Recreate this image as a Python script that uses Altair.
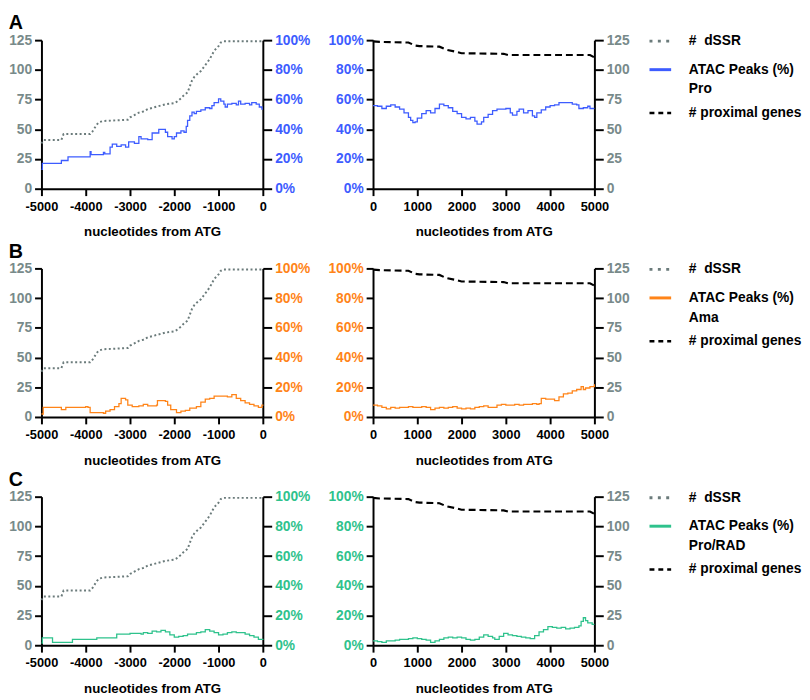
import altair as alt
import pandas as pd

# ---------------- data ----------------
# cumulative # dSSR (0-125 scale), upstream panel
dssr_pos = [-5000, -4950, -4550, -4500, -3900, -3850, -3800, -3750, -3700, -3600, -3050, -3000,
            -2900, -2800, -2700, -2600, -2500, -2400, -2300, -2200, -2000, -1950, -1850, -1800,
            -1700, -1650, -1600, -1550, -1500, -1400, -1300, -1200, -1100, -1000, -950, -900, 0]
dssr_val = [38, 41, 41, 46, 46, 48, 51, 54, 56, 57, 58, 60,
            62, 64, 65, 67, 68, 69, 70, 71, 72, 73, 76, 78,
            81, 86, 91, 94, 96, 99, 104, 109, 116, 120, 123, 124, 124]

# # proximal genes (0-125 scale), downstream panel
prox_pos = [0, 150, 800, 950, 1050, 1500, 1650, 1900, 2000, 2950, 3050, 4900, 5000]
prox_val = [124, 123.5, 123, 120.5, 120, 119.5, 117, 115, 114, 113.5, 112.5, 112.5, 110.5]

# ATAC peaks (%) - Pro
pro_up_pos = [-5000, -4980, -4550, -4400, -3900, -3880, -3600, -3570, -3450, -3400, -3300, -3200,
              -3100, -3030, -2900, -2800, -2750, -2600, -2500, -2350, -2200, -2150, -2050, -2000,
              -1950, -1850, -1780, -1730, -1700, -1650, -1600, -1550, -1500, -1400, -1300, -1200,
              -1150, -1100, -1000, -950, -880, -850, -800, -700, -600, -550, -500, -400, -300,
              -250, -150, -80, -20, 0]
pro_up_val = [13, 17, 19, 21.5, 25, 23, 24.5, 23.5, 28, 30, 28.5, 29.5,
              28, 31.5, 30.5, 35, 33.5, 33, 37.5, 40, 38, 35, 33.5, 35,
              37.5, 39, 38, 42, 46, 49, 51.5, 50.5, 52, 53, 54.5, 54,
              56, 58, 60.5, 59, 57, 55, 57, 57.5, 56.5, 59, 57, 57.5, 56.5,
              58, 57, 55, 53.5, 53.5]
pro_dn_pos = [0, 100, 200, 300, 400, 500, 600, 700, 800, 850, 900, 950, 1000, 1100, 1200, 1300,
              1400, 1500, 1600, 1700, 1800, 1900, 2000, 2100, 2200, 2300, 2350, 2450, 2500, 2600,
              2700, 2800, 2900, 3000, 3100, 3150, 3250, 3300, 3400, 3500, 3600, 3650, 3700, 3800,
              3900, 4000, 4100, 4200, 4300, 4400, 4500, 4600, 4650, 4750, 4850, 4900, 5000]
pro_dn_val = [56, 55.5, 54, 55.5, 56.5, 55, 53.5, 51, 48, 46, 44.5, 45, 47.5, 50.5, 52.5, 51,
              54, 57, 56, 54.5, 52, 50.5, 48, 47, 48, 45.5, 43.5, 45, 48, 50,
              52.5, 53.5, 53.5, 54, 51, 49.5, 52, 53.5, 51, 52.5, 49, 48, 51, 53,
              55, 56, 56.5, 58, 58, 58, 57, 56.5, 54, 54.5, 55.5, 54, 54]

# ATAC peaks (%) - Ama
ama_up_pos = [-5000, -4960, -4550, -4450, -4000, -3950, -3900, -3600, -3550, -3450, -3350, -3250,
              -3200, -3100, -3050, -2950, -2800, -2700, -2600, -2400, -2380, -2200, -2150, -2080,
              -1950, -1850, -1750, -1650, -1500, -1400, -1300, -1200, -1100, -900, -800, -700,
              -600, -500, -400, -300, -200, -100, -20, 0]
ama_up_val = [2, 6.5, 5, 6.5, 7, 6.5, 3, 2.5, 4, 5, 7, 9,
              12.5, 11.5, 8, 7, 7.5, 8.5, 7.5, 8, 11, 10.5, 8, 5,
              3, 4, 4.5, 6, 7, 10, 12, 12.5, 14, 14, 13.5, 15,
              12.5, 11, 9.5, 8.5, 7.5, 6.5, 8, 7.5]
ama_dn_pos = [0, 100, 200, 300, 400, 500, 600, 700, 800, 900, 1000, 1100, 1200, 1300, 1400, 1500,
              1600, 1700, 1800, 1900, 2000, 2100, 2200, 2300, 2400, 2500, 2600, 2700, 2800, 2900,
              3000, 3100, 3200, 3300, 3400, 3500, 3600, 3700, 3750, 3800, 3900, 4000, 4100, 4200,
              4300, 4400, 4500, 4600, 4700, 4750, 4800, 4900, 5000]
ama_dn_val = [8, 7.5, 6.5, 5.5, 6.5, 6, 6.5, 6.5, 7, 6.5, 6.5, 7, 6.5, 5, 6, 6.5,
              6, 6.5, 7, 6, 5.5, 6, 5.5, 6.5, 7, 7.5, 6.5, 6.5, 8, 8.5,
              8, 8, 8.5, 8, 8.5, 8.5, 9, 8.5, 9, 12.5, 12, 12, 11, 13.5,
              15.5, 16, 17.5, 18.5, 20.5, 18.5, 19.5, 20.5, 22]

# ATAC peaks (%) - Pro/RAD
rad_up_pos = [-5000, -4980, -4750, -4300, -3900, -3750, -3300, -3000, -2750, -2700, -2600, -2500,
              -2400, -2300, -2200, -2100, -2000, -1900, -1800, -1700, -1600, -1500, -1400, -1300,
              -1200, -1100, -1000, -900, -800, -700, -600, -500, -400, -300, -200, -100, 0]
rad_up_val = [1.5, 5, 2, 4, 4, 5, 7.5, 8, 7.5, 8.5, 8, 9.5,
              9, 10, 9, 7, 5.5, 6, 6.5, 7.5, 7.5, 8.5, 9, 10.5,
              9.5, 8.5, 7, 7.5, 8.5, 9, 8.5, 8.5, 7.5, 6.5, 5.5, 4, 3.5]
rad_dn_pos = [0, 100, 200, 300, 400, 500, 600, 700, 800, 900, 1000, 1100, 1200, 1300, 1400, 1500,
              1600, 1700, 1800, 1900, 2000, 2100, 2200, 2300, 2400, 2500, 2600, 2700, 2750, 2850,
              2950, 3050, 3150, 3250, 3350, 3450, 3550, 3650, 3750, 3850, 3950, 4050, 4150, 4250,
              4350, 4450, 4550, 4650, 4700, 4750, 4800, 4850, 4950, 5000]
rad_dn_val = [3, 2.5, 2, 3, 3, 3.5, 4, 4, 4.5, 5, 4.5, 4, 3.5, 2, 3, 4,
              5, 5.5, 5, 5.5, 5, 4, 3.5, 4, 5.5, 7, 6, 5, 4, 6,
              8, 7, 6.5, 6, 5.5, 5, 4.5, 6.5, 9, 10.5, 12.5, 12, 11.5, 12,
              11, 11.5, 12, 13, 16, 18.5, 16.5, 15, 14, 14]

up_ticks = [-5000, -4000, -3000, -2000, -1000, 0]
dn_ticks = [0, 1000, 2000, 3000, 4000, 5000]
count_ticks = [0, 25, 50, 75, 100, 125]
pct_ticks = [0, 20, 40, 60, 80, 100]

# ---------------- styling ----------------
FONT = "Liberation Sans"
GRAY_LABEL = "#788a8a"
DOT = "#6b7b7b"
W = 225
H = 151
YFS = 14


def xaxis(values):
    return alt.Axis(values=values, title="nucleotides from ATG", labelExpr="datum.value + ''",
                    tickSize=7, labelPadding=5, titlePadding=12, labelColor="#000", labelFontSize=13)


def count_axis(orient):
    return alt.Axis(orient=orient, values=count_ticks, title=None, labelColor=GRAY_LABEL,
                    tickSize=7 if orient == "left" else 9, labelPadding=3, labelFontSize=YFS)


def pct_axis(orient, color):
    return alt.Axis(orient=orient, values=pct_ticks, title=None, labelExpr="datum.value + '%'",
                    labelColor=color, tickSize=7 if orient == "left" else 9, labelPadding=3,
                    labelFontSize=YFS)


def left_panel(pos, val, color):
    x = alt.X("pos:Q", scale=alt.Scale(domain=[-5000, 0], nice=False, zero=False), axis=xaxis(up_ticks))
    dotted = alt.Chart(pd.DataFrame({"pos": dssr_pos, "v": dssr_val})).mark_line(
        color=DOT, strokeDash=[2, 2.5], strokeWidth=2).encode(
        x=x, y=alt.Y("v:Q", scale=alt.Scale(domain=[0, 125], nice=False), axis=count_axis("left")))
    atac = alt.Chart(pd.DataFrame({"pos": pos, "v": val})).mark_line(
        color=color, strokeWidth=1.3, interpolate="step-after").encode(
        x=x, y=alt.Y("v:Q", scale=alt.Scale(domain=[0, 100], nice=False), axis=pct_axis("right", color)))
    return alt.layer(dotted, atac).resolve_scale(y="independent").properties(width=W, height=H)


def right_panel(pos, val, color):
    x = alt.X("pos:Q", scale=alt.Scale(domain=[0, 5000], nice=False), axis=xaxis(dn_ticks))
    atac = alt.Chart(pd.DataFrame({"pos": pos, "v": val})).mark_line(
        color=color, strokeWidth=1.3, interpolate="step-after").encode(
        x=x, y=alt.Y("v:Q", scale=alt.Scale(domain=[0, 100], nice=False), axis=pct_axis("left", color)))
    dashed = alt.Chart(pd.DataFrame({"pos": prox_pos, "v": prox_val})).mark_line(
        color="black", strokeDash=[7, 4], strokeWidth=2.2).encode(
        x=x, y=alt.Y("v:Q", scale=alt.Scale(domain=[0, 125], nice=False), axis=count_axis("right")))
    return alt.layer(atac, dashed).resolve_scale(y="independent").properties(width=W, height=H)


def legend_panel(name, color):
    one = pd.DataFrame({"k": [0]})
    txt = dict(align="left", baseline="middle", fontSize=14, fontWeight="bold", font=FONT, color="black")
    y1, y2, y2b, y3 = 1, 30, 50, 74
    layers = [
        alt.Chart(one).mark_rule(color=DOT, strokeWidth=3, strokeDash=[3, 5.5]).encode(
            x=alt.value(0), x2=alt.value(22), y=alt.value(y1)),
        alt.Chart(one).mark_rule(color=color, strokeWidth=3).encode(
            x=alt.value(0), x2=alt.value(22), y=alt.value(y2)),
        alt.Chart(one).mark_rule(color="black", strokeWidth=2.5, strokeDash=[5, 4]).encode(
            x=alt.value(0), x2=alt.value(22), y=alt.value(y3)),
        alt.Chart(one).mark_text(text="#\u00a0\u00a0dSSR", **txt).encode(x=alt.value(40), y=alt.value(y1)),
        alt.Chart(one).mark_text(text="ATAC Peaks (%)", **txt).encode(x=alt.value(40), y=alt.value(y2)),
        alt.Chart(one).mark_text(text=name, **txt).encode(x=alt.value(40), y=alt.value(y2b)),
        alt.Chart(one).mark_text(text="# proximal genes", **txt).encode(x=alt.value(40), y=alt.value(y3)),
    ]
    return alt.layer(*layers).properties(width=150, height=H)


def row(letter, name, color, up_pos, up_val, dn_pos, dn_val):
    return alt.hconcat(
        left_panel(up_pos, up_val, color),
        right_panel(dn_pos, dn_val, color),
        legend_panel(name, color),
        spacing=18,
        title=alt.TitleParams(letter, anchor="start", fontSize=20, fontWeight="bold", font=FONT,
                              color="black", offset=0),
    )


chart = alt.vconcat(
    row("A", "Pro", "#3d5cff", pro_up_pos, pro_up_val, pro_dn_pos, pro_dn_val),
    row("B", "Ama", "#ff8418", ama_up_pos, ama_up_val, ama_dn_pos, ama_dn_val),
    row("C", "Pro/RAD", "#2ec28c", rad_up_pos, rad_up_val, rad_dn_pos, rad_dn_val),
    spacing=3,
).properties(
    padding={"left": 0, "top": 0, "right": 0, "bottom": 0}
).configure_axis(
    labelFont=FONT, labelFontSize=13, labelFontWeight="bold",
    titleFont=FONT, titleFontSize=13.5, titleFontWeight="bold", titleColor="black",
    domainColor="black", domainWidth=2, tickColor="black", tickWidth=2,
    grid=False, labelFlush=False, labelOverlap=False,
).configure_view(stroke=None)

chart.save("out.html", embed_options={"renderer": "svg", "actions": False})
